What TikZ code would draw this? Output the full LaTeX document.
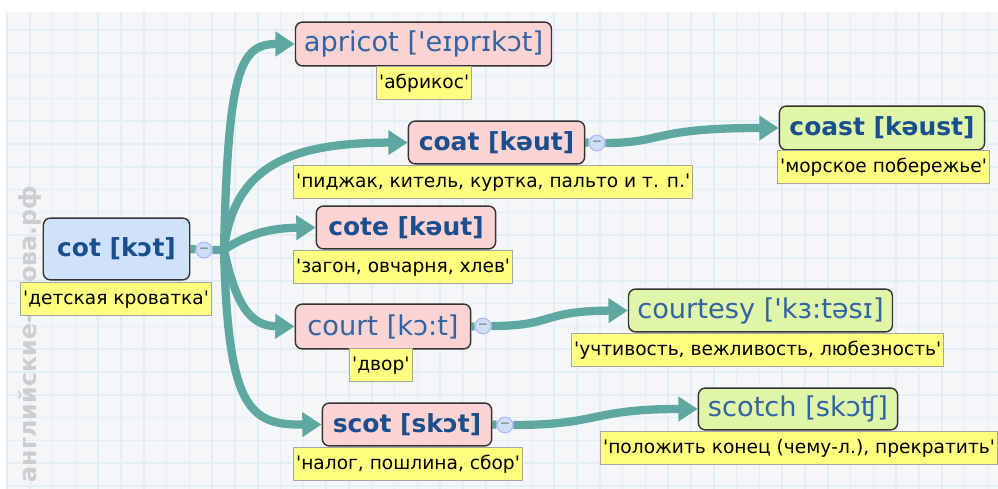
\documentclass[tikz,border=0pt]{standalone}
\usepackage{fontspec}
\setmainfont{DejaVu Sans}[Ligatures=TeXOff]
\usetikzlibrary{arrows.meta, backgrounds}
\definecolor{branchColor}{RGB}{95,168,161}
\definecolor{gridColor}{RGB}{226,239,245}
\definecolor{paperColor}{RGB}{244,246,248}
\definecolor{rootFill}{RGB}{208,225,251}
\definecolor{wordFill}{RGB}{252,211,211}
\definecolor{deriveFill}{RGB}{223,245,168}
\definecolor{noteFill}{RGB}{255,255,128}
\definecolor{wordText}{RGB}{26,78,143}
\definecolor{plainText}{RGB}{50,100,165}
\definecolor{markColor}{RGB}{204,206,208}
\definecolor{knobFill}{RGB}{205,222,245}

\begin{document}
\begin{tikzpicture}[x=0.02cm, y=-0.02cm,
  word/.style={draw=black!80, rounded corners=4pt, line width=0.8pt, text=plainText,
    inner sep=0pt, font=\fontsize{15.5}{17}\selectfont},
  headword/.style={word, text=wordText, font=\fontsize{14.2}{16}\selectfont\bfseries},
  note/.style={draw=black!35, fill=noteFill, line width=0.6pt, inner sep=1.5pt,
    minimum height=19pt, anchor=north west, font=\fontsize{10.6}{12}\selectfont},
  knob/.style={circle, draw=blue!30, fill=knobFill, line width=0.6pt, minimum size=9pt,
    inner sep=0pt, font=\scriptsize, text=black!55},
  branch/.style={branchColor, line width=4.7pt, -{Triangle[length=11pt, width=13.5pt]}},
  stem/.style={branchColor, line width=4.7pt}]
  \useasboundingbox (0,0) rectangle (998,489);

  % Paper with grid
  \begin{scope}[on background layer]
    \fill[paperColor] (6,12) rectangle (998,489);
    \foreach \i in {0,...,43}
      \draw[gridColor, line width=0.9pt] (7+\i*22.8,12) -- ++(0,477);
    \foreach \i in {0,...,20}
      \draw[gridColor, line width=0.9pt] (6,30+\i*22.8) -- ++(992,0);
  \end{scope}

  % Watermark
  \node[rotate=90, text=markColor, font=\fontsize{13.5}{16}\selectfont\bfseries] (mark) at (30,334) {английские-слова.рф};

  % Root word
  \node[headword, fill=rootFill, minimum width=147*0.567pt, minimum height=62*0.567pt] (cot) at (116.5,249) {cot [kɔt]};
  \node[note] (cotNote) at (20,282) {'детская кроватка'};
  \node[knob] (cotKnob) at (204,250) {−};
  \coordinate (hub) at (224,250);

  % First level
  \node[word, fill=wordFill, minimum width=257*0.567pt, minimum height=44*0.567pt] (apricot) at (423.5,44) {apricot ['eɪprɪkɔt]};
  \node[note] (apricotNote) at (376,66) {'абрикос'};
  \node[headword, fill=wordFill, minimum width=177*0.567pt, minimum height=43*0.567pt] (coat) at (496.5,142.5) {coat [kəut]};
  \node[note] (coatNote) at (293,165) {'пиджак, китель, куртка, пальто и т. п.'};
  \node[knob] (coatKnob) at (597,143) {−};
  \node[headword, fill=wordFill, minimum width=180*0.567pt, minimum height=43*0.567pt] (cote) at (406,227.5) {cote [kəut]};
  \node[note] (coteNote) at (293,250) {'загон, овчарня, хлев'};
  \node[word, fill=wordFill, minimum width=176*0.567pt, minimum height=45*0.567pt] (court) at (383,326.5) {court [kɔ:t]};
  \node[note] (courtNote) at (349,348) {'двор'};
  \node[knob] (courtKnob) at (483,326) {−};
  \node[headword, fill=wordFill, minimum width=170*0.567pt, minimum height=43*0.567pt] (scot) at (407,424.5) {scot [skɔt]};
  \node[note] (scotNote) at (293,447) {'налог, пошлина, сбор'};
  \node[knob] (scotKnob) at (505,425) {−};

  % Second level
  \node[headword, fill=deriveFill, minimum width=206*0.567pt, minimum height=44*0.567pt] (coast) at (882,128) {coast [kəust]};
  \node[note] (coastNote) at (777,150) {'морское побережье'};
  \node[word, fill=deriveFill, minimum width=265*0.567pt, minimum height=43*0.567pt] (courtesy) at (760.5,310.5) {courtesy ['kɜ:təsɪ]};
  \node[note] (courtesyNote) at (571,333) {'учтивость, вежливость, любезность'};
  \node[word, fill=deriveFill, minimum width=200*0.567pt, minimum height=42*0.567pt] (scotch) at (798,409) {scotch [skɔʧ]};
  \node[note] (scotchNote) at (600,431) {'положить конец (чему-л.), прекратить'};

  \begin{scope}[on background layer]
    % Branches from the root
    \draw[stem] (cot.east) -- (cotKnob) -- (hub);
    \draw[branch] (hub) .. controls (228,70) and (240,44) .. (apricot.west);
    \draw[branch] (hub) .. controls (234,160) and (300,143) .. (coat.west);
    \draw[branch] (hub) .. controls (250,232) and (275,228) .. (cote.west);
    \draw[branch] (hub) .. controls (236,305) and (250,326) .. (court.west);
    \draw[branch] (hub) .. controls (228,410) and (250,425) .. (scot.west);

    % Branches from the first level
    \draw[stem] (coat.east) -- (coatKnob);
    \draw[branch] (coatKnob) .. controls (665,143) and (650,128) .. (coast.west);
    \draw[stem] (court.east) -- (courtKnob);
    \draw[branch] (courtKnob) .. controls (555,326) and (540,311) .. (courtesy.west);
    \draw[stem] (scot.east) -- (scotKnob);
    \draw[branch] (scotKnob) .. controls (600,425) and (590,409) .. (scotch.west);
  \end{scope}
\end{tikzpicture}
\end{document}
